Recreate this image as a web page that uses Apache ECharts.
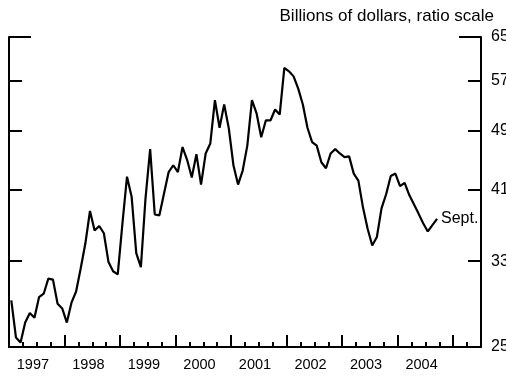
<!DOCTYPE html>
<html>
<head>
<meta charset="UTF-8">
<title>Billions of dollars, ratio scale</title>
<script type="text/javascript" src="https://cdn.jsdelivr.net/npm/echarts@6/dist/echarts.min.js"></script>
<style>
  body{margin:0;background:#fff}
</style>
</head>
<body>
<div id="main" style="width:506px;height:379px"></div>
<script type="text/javascript">
// monthly values, billions of dollars
var v1997 = [29.3, 26.2, 25.8, 27.4, 28.2, 27.8, 29.6, 29.9, 31.3, 31.2, 29.0, 28.6];
var v1998 = [27.4, 29.1, 30.1, 32.3, 34.8, 38.4, 36.2, 36.7, 35.9, 32.9, 32.0, 31.7];
var v1999 = [36.9, 42.6, 40.1, 33.8, 32.4, 39.9, 46.3, 38.0, 37.9, 40.5, 43.2, 44.1];
var v2000 = [43.2, 46.6, 44.8, 42.5, 45.6, 41.6, 45.7, 47.1, 53.7, 49.4, 53.0, 49.3];
var v2001 = [44.1, 41.6, 43.4, 46.8, 53.7, 51.6, 48.0, 50.5, 50.5, 52.2, 51.4, 59.2];
var v2002 = [58.6, 57.7, 55.6, 53.0, 49.4, 47.3, 46.8, 44.5, 43.7, 45.7, 46.3, 45.7];
var v2003 = [45.2, 45.3, 43.0, 42.1, 38.8, 36.4, 34.6, 35.5, 38.7, 40.4, 42.7, 43.0];
var v2004 = [41.4, 41.8, 40.3, 39.2, 38.1, 37.0, 36.1, 36.8, 37.5];

var years = [1997, 1998, 1999, 2000, 2001, 2002, 2003, 2004];
var yearValues = [v1997, v1998, v1999, v2000, v2001, v2002, v2003, v2004];
var yTicks = [25, 33, 41, 49, 57, 65];
var xMin = 1997, xMax = 2005.5;

// ratio scale: plot natural logs on a value axis
var yMin = Math.log(25.45), yMax = Math.log(65);

var data = [];
years.forEach(function (y, i) {
  yearValues[i].forEach(function (v, m) {
    data.push([y + (m + 0.5) / 12, Math.log(v)]);
  });
});

var inner = yTicks.slice(1, -1).map(Math.log);
var labelVals = [yMin].concat(inner, [yMax]);
var font = 'Liberation Sans, Arial, sans-serif';

function yAx(pos, ticks, len, line, labels) {
  return {
    type: 'value', position: pos, min: yMin, max: yMax,
    axisLine: {show: line, lineStyle: {color: '#000', width: 2}},
    axisTick: {show: true, inside: true, length: len, customValues: ticks,
      lineStyle: {color: '#000', width: 2}},
    axisLabel: labels ? {customValues: labelVals, margin: 10, color: '#000',
      fontSize: 16, fontFamily: font,
      formatter: function (v) { return Math.round(Math.exp(v)); }} : {show: false},
    splitLine: {show: false}
  };
}

var myChart = echarts.init(document.getElementById('main'));
var option = {
  animation: false,
  title: {
    text: 'Billions of dollars, ratio scale', right: 12, top: 8, padding: 0,
    textStyle: {fontSize: 17, fontWeight: 'normal', color: '#000', fontFamily: font}
  },
  // labels on the right run past the window edge, as in the original
  grid: {left: 9, right: 25, top: 37, bottom: 32, outerBoundsMode: 'none', containLabel: false},
  xAxis: [
    {
      type: 'value', position: 'bottom', min: xMin, max: xMax, interval: 1,
      axisLine: {lineStyle: {color: '#000', width: 2}},
      axisTick: {inside: true, length: 12, lineStyle: {color: '#000', width: 2}},
      axisLabel: {customValues: years.map(function (y) { return y + 0.43; }),
        margin: 10, color: '#000', fontSize: 14.5, fontFamily: font,
        formatter: function (v) { return Math.floor(v); }},
      splitLine: {show: false}
    },
    {
      type: 'value', position: 'bottom', min: xMin, max: xMax, interval: 0.25,
      axisLine: {show: false},
      axisTick: {inside: true, length: 5, lineStyle: {color: '#000', width: 2}},
      axisLabel: {show: false},
      splitLine: {show: false}
    }
  ],
  yAxis: [
    yAx('left', inner, 13, true, false),
    yAx('left', [yMax], 22, false, false),
    yAx('right', inner, 13, true, true),
    yAx('right', [yMax], 22, false, false)
  ],
  series: [{
    type: 'line',
    data: data,
    symbol: 'none',
    lineStyle: {color: '#000', width: 2.2},
    endLabel: {show: true, formatter: 'Sept.', color: '#000', fontSize: 16,
      fontFamily: font, distance: 4}
  }]
};
myChart.setOption(option);
</script>
</body>
</html>
